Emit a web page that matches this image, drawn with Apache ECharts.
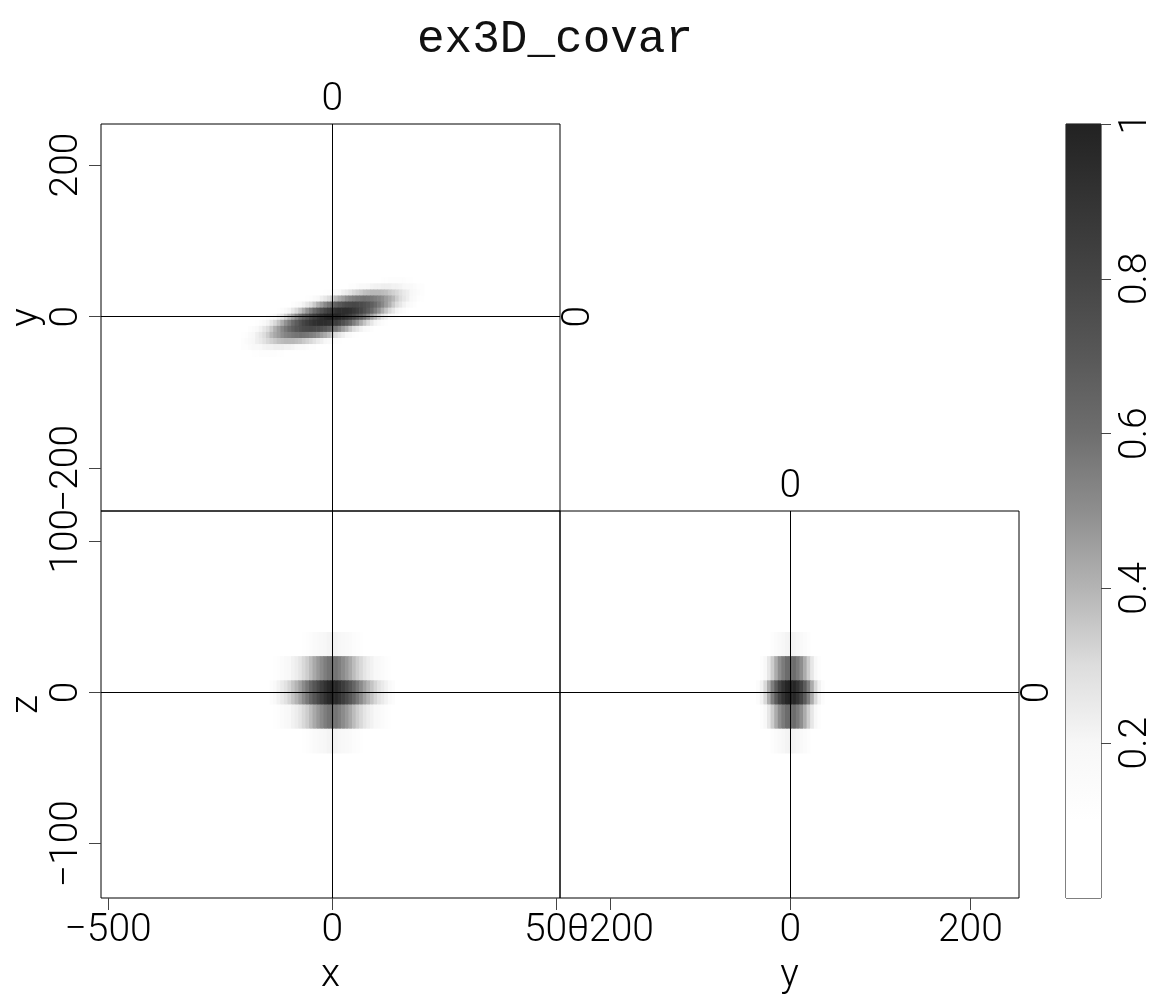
<!DOCTYPE html>
<html><head><meta charset="utf-8">
<script src="https://cdn.jsdelivr.net/npm/echarts@6/dist/echarts.min.js"></script>
<style>html,body{margin:0;padding:0;background:#fff}#c{width:1156px;height:999px}</style>
</head><body><div id="c"></div><script>
// ---------- DATA ----------
const titleText = 'ex3D_covar';
const colormap = ['#ffffff','#ffffff','#f7f7f7','#dddddd','#b4b4b4','#8e8e8e','#6e6e6e','#585858','#454545','#343434','#222222'];
const colorbarRange = [0, 1];
const colorTicks = [0.2, 0.4, 0.6, 0.8, 1];
const xRange = [-516, 508];
const yRange = [-256, 254];
const zRange = [-136, 120];
const xTicks = [-500, 0, 500];
const yTicks = [-200, 0, 200];
const zTicks = [-100, 0, 100];
const sliceX = [0], sliceY = [0], sliceZ = [0];

// top panel: x-y slice (z = 0)
const xTop = [-200,-192,-184,-176,-168,-160,-152,-144,-136,-128,-120,-112,-104,-96,-88,-80,-72,-64,-56,-48,-40,-32,-24,-16,-8,0,8,16,24,32,40,48,56,64,72,80,88,96,104,112,120,128,136,144,152,160,168,176,184,192,200];
const yTop = [48,40,32,24,16,8,0,-8,-16,-24,-32,-40,-48];
const xyValues = [
 [0,0,0,0,0,0,0,0,0,0,0,0,0,0,0,0,0,0,0,0,0,0,.01,.01,.01,.01,.02,.02,.03,.03,.04,.05,.05,.06,.07,.08,.09,.09,.10,.11,.11,.12,.12,.12,.12,.12,.11,.11,.10,.09,.09],
 [0,0,0,0,0,0,0,0,0,0,0,0,0,0,0,0,0,.01,.01,.01,.02,.02,.03,.03,.04,.05,.06,.07,.09,.10,.12,.13,.15,.17,.18,.19,.21,.22,.22,.23,.23,.23,.22,.22,.21,.19,.18,.17,.15,.13,.12],
 [0,0,0,0,0,0,0,0,0,0,0,0,.01,.01,.01,.02,.02,.03,.04,.05,.06,.07,.09,.11,.13,.15,.17,.20,.23,.25,.28,.31,.33,.35,.37,.38,.39,.39,.39,.38,.37,.35,.33,.31,.28,.25,.23,.20,.17,.15,.13],
 [0,0,0,0,0,0,0,0,.01,.01,.01,.02,.02,.03,.04,.05,.07,.09,.11,.13,.16,.19,.23,.26,.30,.34,.39,.43,.46,.50,.53,.55,.57,.58,.59,.58,.57,.55,.53,.50,.46,.43,.39,.34,.30,.26,.23,.19,.16,.13,.11],
 [0,0,0,0,.01,.01,.01,.02,.02,.03,.04,.06,.07,.09,.12,.15,.18,.22,.26,.30,.35,.41,.46,.52,.57,.62,.67,.71,.74,.77,.78,.79,.78,.77,.74,.71,.67,.62,.57,.52,.46,.41,.35,.30,.26,.22,.18,.15,.12,.09,.07],
 [.01,.01,.01,.02,.02,.03,.04,.05,.07,.09,.11,.14,.17,.21,.26,.31,.36,.42,.49,.55,.62,.68,.74,.80,.85,.89,.92,.94,.94,.94,.92,.89,.85,.80,.74,.68,.62,.55,.49,.42,.36,.31,.26,.21,.17,.14,.11,.09,.07,.05,.04],
 [.02,.02,.03,.04,.05,.07,.09,.12,.15,.18,.23,.27,.33,.39,.45,.52,.59,.66,.72,.79,.85,.90,.94,.97,.99,1.00,.99,.97,.94,.90,.85,.79,.72,.66,.59,.52,.45,.39,.33,.27,.23,.18,.15,.12,.09,.07,.05,.04,.03,.02,.02],
 [.04,.05,.07,.09,.11,.14,.17,.21,.26,.31,.36,.42,.49,.55,.62,.68,.74,.80,.85,.89,.92,.94,.94,.94,.92,.89,.85,.80,.74,.68,.62,.55,.49,.42,.36,.31,.26,.21,.17,.14,.11,.09,.07,.05,.04,.03,.02,.02,.01,.01,.01],
 [.07,.09,.12,.15,.18,.22,.26,.30,.35,.41,.46,.52,.57,.62,.67,.71,.74,.77,.78,.79,.78,.77,.74,.71,.67,.62,.57,.52,.46,.41,.35,.30,.26,.22,.18,.15,.12,.09,.07,.06,.04,.03,.02,.02,.01,.01,.01,0,0,0,0],
 [.11,.13,.16,.19,.23,.26,.30,.34,.39,.43,.46,.50,.53,.55,.57,.58,.59,.58,.57,.55,.53,.50,.46,.43,.39,.34,.30,.26,.23,.19,.16,.13,.11,.09,.07,.05,.04,.03,.02,.02,.01,.01,.01,0,0,0,0,0,0,0,0],
 [.13,.15,.17,.20,.23,.25,.28,.31,.33,.35,.37,.38,.39,.39,.39,.38,.37,.35,.33,.31,.28,.25,.23,.20,.17,.15,.13,.11,.09,.07,.06,.05,.04,.03,.02,.02,.01,.01,.01,0,0,0,0,0,0,0,0,0,0,0,0],
 [.12,.13,.15,.17,.18,.19,.21,.22,.22,.23,.23,.23,.22,.22,.21,.19,.18,.17,.15,.13,.12,.10,.09,.07,.06,.05,.04,.03,.03,.02,.02,.01,.01,.01,0,0,0,0,0,0,0,0,0,0,0,0,0,0,0,0,0],
 [.09,.09,.10,.11,.11,.12,.12,.12,.12,.12,.11,.11,.10,.09,.09,.08,.07,.06,.05,.05,.04,.03,.03,.02,.02,.01,.01,.01,.01,0,0,0,0,0,0,0,0,0,0,0,0,0,0,0,0,0,0,0,0,0,0]
];

// bottom-left panel: x-z slice (y = 0)
const xFront = [-160,-152,-144,-136,-128,-120,-112,-104,-96,-88,-80,-72,-64,-56,-48,-40,-32,-24,-16,-8,0,8,16,24,32,40,48,56,64,72,80,88,96,104,112,120,128,136,144,152,160];
const zRows = [32,16,0,-16,-32];
const xzValues = [
 [.01,.02,.02,.03,.04,.05,.06,.06,.07,.08,.09,.10,.11,.13,.14,.16,.17,.19,.20,.21,.22,.21,.20,.19,.17,.16,.14,.13,.11,.10,.09,.08,.07,.06,.06,.05,.04,.03,.02,.02,.01],
 [.02,.04,.06,.08,.11,.13,.15,.17,.19,.22,.24,.27,.31,.34,.38,.43,.47,.51,.55,.58,.60,.58,.55,.51,.47,.43,.38,.34,.31,.27,.24,.22,.19,.17,.15,.13,.11,.08,.06,.04,.02],
 [.04,.07,.10,.14,.18,.22,.25,.28,.32,.36,.40,.45,.51,.57,.64,.71,.78,.85,.91,.96,1.00,.96,.91,.85,.78,.71,.64,.57,.51,.45,.40,.36,.32,.28,.25,.22,.18,.14,.10,.07,.04],
 [.02,.04,.06,.08,.11,.13,.15,.17,.19,.22,.24,.27,.31,.34,.38,.43,.47,.51,.55,.58,.60,.58,.55,.51,.47,.43,.38,.34,.31,.27,.24,.22,.19,.17,.15,.13,.11,.08,.06,.04,.02],
 [.01,.02,.02,.03,.04,.05,.06,.06,.07,.08,.09,.10,.11,.13,.14,.16,.17,.19,.20,.21,.22,.21,.20,.19,.17,.16,.14,.13,.11,.10,.09,.08,.07,.06,.06,.05,.04,.03,.02,.02,.01]
];

// bottom-right panel: y-z slice (x = 0)
const ySide = [-52,-48,-44,-40,-36,-32,-28,-24,-20,-16,-12,-8,-4,0,4,8,12,16,20,24,28,32,36,40,44,48,52];
const yzValues = [
 [0,.01,.01,.02,.03,.05,.07,.09,.12,.15,.18,.20,.21,.22,.21,.20,.18,.15,.12,.09,.07,.05,.03,.02,.01,.01,0],
 [.01,.02,.03,.06,.09,.13,.19,.26,.34,.42,.50,.56,.61,.62,.61,.56,.50,.42,.34,.26,.19,.13,.09,.06,.03,.02,.01],
 [.02,.03,.06,.09,.14,.22,.31,.42,.55,.68,.81,.91,.98,1.00,.98,.91,.81,.68,.55,.42,.31,.22,.14,.09,.06,.03,.02],
 [.01,.02,.03,.06,.09,.13,.19,.26,.34,.42,.50,.56,.61,.62,.61,.56,.50,.42,.34,.26,.19,.13,.09,.06,.03,.02,.01],
 [0,.01,.01,.02,.03,.05,.07,.09,.12,.15,.18,.20,.21,.22,.21,.20,.18,.15,.12,.09,.07,.05,.03,.02,.01,.01,0]
];

// ---------- BUILD ----------
function cells(xs, ys, rows) {
  const out = [];
  ys.forEach((y, j) => xs.forEach((x, i) => { const v = rows[j][i]; if (v > 0) out.push([x, y, v]); }));
  return out;
}
function cellRenderer(dx, dy) {
  return function (params, api) {
    const x = api.value(0), y = api.value(1);
    const p0 = api.coord([x - dx / 2, y + dy / 2]);
    const p1 = api.coord([x + dx / 2, y - dy / 2]);
    return { type: 'rect', shape: { x: p0[0], y: p0[1], width: p1[0] - p0[0] + 0.6, height: p1[1] - p0[1] + 0.6 },
      style: { fill: api.visual('color') } };
  };
}
const FONT = 'Roboto';
const lab = { fontFamily: FONT, fontWeight: 300, fontSize: 39, color: '#000' };
const fmt = v => (v < 0 ? '\u2212' + Math.abs(v) : String(v));
const tickLine = { color: '#444', width: 1 };
const noLine = { show: false, onZero: false };
const cross = {
  silent: true, symbol: ['none', 'none'], animation: false,
  label: { show: false }, lineStyle: { color: '#000', width: 1, type: 'solid' },
  emphasis: { disabled: true },
  data: [{ xAxis: 0 }, { yAxis: 0 }]
};
const gridBase = { show: true, borderColor: '#000', borderWidth: 1, backgroundColor: 'transparent', containLabel: false };

const option = {
  animation: false,
  title: { text: titleText, left: 412, top: 12,
    textStyle: { fontFamily: 'Liberation Mono', fontWeight: 'normal', fontSize: 46, color: '#111' } },
  grid: [
    Object.assign({ left: 101, top: 124, width: 459, height: 387 }, gridBase),
    Object.assign({ left: 101, top: 511, width: 459, height: 387 }, gridBase),
    Object.assign({ left: 560, top: 511, width: 459, height: 387 }, gridBase),
    Object.assign({ left: 1066, top: 124, width: 36, height: 774 }, gridBase)
  ],
  visualMap: { type: 'continuous', show: false, min: 0, max: 1, dimension: 2, seriesIndex: [0, 1, 2],
    inRange: { color: colormap } },
  xAxis: [
    { gridIndex: 0, type: 'value', min: xRange[0], max: xRange[1], position: 'bottom', axisLine: noLine,
      axisTick: { show: false }, axisLabel: { show: false }, splitLine: { show: false } },
    { gridIndex: 0, type: 'value', min: xRange[0], max: xRange[1], position: 'top', axisLine: noLine,
      axisTick: { show: false }, axisLabel: Object.assign({ customValues: sliceX, formatter: fmt, margin: 4 }, lab),
      splitLine: { show: false } },
    { gridIndex: 1, type: 'value', min: xRange[0], max: xRange[1], position: 'bottom', axisLine: noLine,
      axisTick: { customValues: xTicks, length: 12, lineStyle: tickLine },
      axisLabel: Object.assign({ customValues: xTicks, formatter: fmt, margin: 14 }, lab),
      splitLine: { show: false }, name: 'x', nameLocation: 'middle', nameGap: 59, nameTextStyle: lab },
    { gridIndex: 2, type: 'value', min: yRange[0], max: yRange[1], position: 'bottom', axisLine: noLine,
      axisTick: { customValues: yTicks, length: 12, lineStyle: tickLine },
      axisLabel: Object.assign({ customValues: yTicks, formatter: fmt, margin: 14 }, lab),
      splitLine: { show: false }, name: 'y', nameLocation: 'middle', nameGap: 59, nameTextStyle: lab },
    { gridIndex: 2, type: 'value', min: yRange[0], max: yRange[1], position: 'top', axisLine: noLine,
      axisTick: { show: false }, axisLabel: Object.assign({ customValues: sliceY, formatter: fmt, margin: 4 }, lab),
      splitLine: { show: false } },
    { gridIndex: 3, type: 'value', min: 0, max: 1, show: false, axisLine: noLine, splitLine: { show: false } }
  ],
  yAxis: [
    { gridIndex: 0, type: 'value', min: yRange[0], max: yRange[1], position: 'left', axisLine: noLine,
      axisTick: { customValues: yTicks, length: 12, lineStyle: tickLine },
      axisLabel: Object.assign({ customValues: yTicks, formatter: fmt, rotate: 90, margin: 14 }, lab),
      splitLine: { show: false }, name: 'y', nameLocation: 'middle', nameGap: 54, nameTextStyle: lab },
    { gridIndex: 0, type: 'value', min: yRange[0], max: yRange[1], position: 'right', axisLine: noLine,
      axisTick: { show: false }, axisLabel: Object.assign({ customValues: sliceZ, formatter: fmt, rotate: 90, margin: 0 }, lab),
      splitLine: { show: false } },
    { gridIndex: 1, type: 'value', min: zRange[0], max: zRange[1], position: 'left', axisLine: noLine,
      axisTick: { customValues: zTicks, length: 12, lineStyle: tickLine },
      axisLabel: Object.assign({ customValues: zTicks, formatter: fmt, rotate: 90, margin: 14 }, lab),
      splitLine: { show: false }, name: 'z', nameLocation: 'middle', nameGap: 54, nameTextStyle: lab },
    { gridIndex: 2, type: 'value', min: zRange[0], max: zRange[1], position: 'left', axisLine: noLine,
      axisTick: { show: false }, axisLabel: { show: false }, splitLine: { show: false } },
    { gridIndex: 2, type: 'value', min: zRange[0], max: zRange[1], position: 'right', axisLine: noLine,
      axisTick: { show: false }, axisLabel: Object.assign({ customValues: sliceX, formatter: fmt, rotate: 90, margin: 0 }, lab),
      splitLine: { show: false } },
    { gridIndex: 3, type: 'value', min: colorbarRange[0], max: colorbarRange[1], position: 'right', axisLine: noLine,
      axisTick: { customValues: colorTicks, length: 10, lineStyle: tickLine },
      axisLabel: Object.assign({ customValues: colorTicks, formatter: fmt, rotate: 90, margin: 16 }, lab),
      splitLine: { show: false } }
  ],
  series: [
    { type: 'custom', xAxisIndex: 0, yAxisIndex: 0, data: cells(xTop, yTop, xyValues), renderItem: cellRenderer(8, 8),
      encode: { x: 0, y: 1 }, clip: true, silent: true, markLine: cross },
    { type: 'custom', xAxisIndex: 2, yAxisIndex: 2, data: cells(xFront, zRows, xzValues), renderItem: cellRenderer(8, 16),
      encode: { x: 0, y: 1 }, clip: true, silent: true, markLine: cross },
    { type: 'custom', xAxisIndex: 3, yAxisIndex: 3, data: cells(ySide, zRows, yzValues), renderItem: cellRenderer(4, 16),
      encode: { x: 0, y: 1 }, clip: true, silent: true, markLine: cross },
    { type: 'custom', xAxisIndex: 5, yAxisIndex: 5, data: [[colorbarRange[0], colorbarRange[1]]], silent: true,
      renderItem: function (params, api) {
        const p0 = api.coord([colorbarRange[0], colorbarRange[1]]);
        const p1 = api.coord([colorbarRange[1], colorbarRange[0]]);
        const stops = colormap.map((c, i) => ({ offset: i / (colormap.length - 1), color: c }));
        return { type: 'rect', shape: { x: p0[0], y: p0[1], width: p1[0] - p0[0], height: p1[1] - p0[1] },
          style: { fill: new echarts.graphic.LinearGradient(0, 1, 0, 0, stops) } };
      } }
  ]
};
const chart = echarts.init(document.getElementById('c'), null, { renderer: 'canvas' });
chart.setOption(option);
</script></body></html>
